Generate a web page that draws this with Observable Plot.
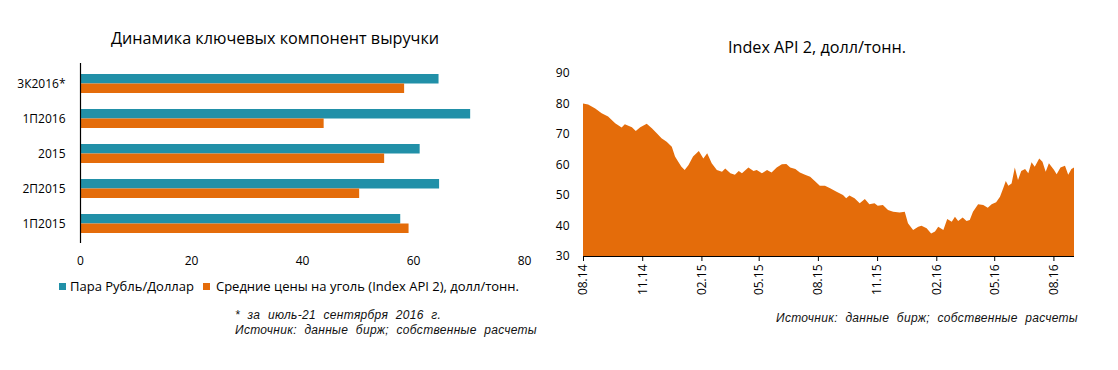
<!DOCTYPE html>
<html>
<head>
<meta charset="utf-8">
<script src="https://cdn.jsdelivr.net/npm/d3@7"></script>
<script src="https://cdn.jsdelivr.net/npm/@observablehq/plot@0.6"></script>
<style>
  html, body { margin: 0; padding: 0; background: #fff; }
  body { width: 1118px; height: 370px; position: relative; overflow: hidden; font-family: "Open Sans", sans-serif; color: #000; }
  .abs { position: absolute; white-space: nowrap; }
  .title { font-size: 16.2px; transform: translateY(-50%); }
  .legend { font-size: 13px; transform: translateY(-50%); display: flex; align-items: center; }
  .legend .sw { display: inline-block; width: 7px; height: 7px; }
  .note { font-family: "Liberation Sans", Arial, sans-serif; font-style: italic; font-size: 12px; letter-spacing: 0.3px; word-spacing: 4px; transform: translateY(-50%); color: #111; }
</style>
</head>
<body>
<div id="root"></div>
<script>
// ---------- Left chart data ----------
const categories = ["3К2016*", "1П2016", "2015", "2П2015", "1П2015"];
const seriesNames = ["Пара Рубль/Доллар", "Средние цены на уголь (Index API 2), долл/тонн."];
const rubUsd = [64.6, 70.3, 61.2, 64.7, 57.7];
const coalPrice = [58.4, 43.9, 54.8, 50.3, 59.2];
const barTicks = [0, 20, 40, 60, 80];
const seriesColors = ["#2190a8", "#e46c0a"];
const leftTitle = "Динамика ключевых компонент выручки";
const leftNotes = ["* за июль-21  сентярбря  2016 г.", "Источник: данные бирж; собственные расчеты"];

// ---------- Right chart data ----------
const api2Dates = [
  "2014-08-01","2014-08-09","2014-08-20","2014-08-30","2014-09-09","2014-09-20","2014-09-30","2014-10-05",
  "2014-10-16","2014-10-22","2014-10-29","2014-11-08","2014-11-16","2014-11-24","2014-12-01","2014-12-09",
  "2014-12-17","2014-12-22","2014-12-27","2015-01-01","2015-01-06","2015-01-12","2015-01-19","2015-01-28",
  "2015-02-04","2015-02-10","2015-02-17","2015-02-25","2015-03-05","2015-03-10","2015-03-18","2015-03-25",
  "2015-03-31","2015-04-05","2015-04-15","2015-04-23","2015-04-28","2015-05-06","2015-05-14","2015-05-21",
  "2015-05-29","2015-06-06","2015-06-13","2015-06-19","2015-06-27","2015-07-04","2015-07-12","2015-07-20",
  "2015-07-28","2015-08-04","2015-08-12","2015-08-20","2015-08-30","2015-09-09","2015-09-14","2015-09-19",
  "2015-09-27","2015-10-05","2015-10-13","2015-10-20","2015-10-28","2015-11-02","2015-11-10","2015-11-18",
  "2015-11-26","2015-12-06","2015-12-14","2015-12-19","2015-12-27","2016-01-04","2016-01-09","2016-01-17",
  "2016-01-24","2016-01-30","2016-02-04","2016-02-12","2016-02-18","2016-02-25","2016-03-01","2016-03-06",
  "2016-03-13","2016-03-19","2016-03-24","2016-03-29","2016-04-06","2016-04-14","2016-04-21","2016-04-27",
  "2016-05-04","2016-05-10","2016-05-15","2016-05-19","2016-05-23","2016-05-28","2016-06-02","2016-06-07",
  "2016-06-12","2016-06-18","2016-06-23","2016-06-28","2016-07-03","2016-07-10","2016-07-15","2016-07-20",
  "2016-07-25","2016-08-02","2016-08-06","2016-08-12","2016-08-19","2016-08-24","2016-08-29","2016-09-02"
];
const api2Values = [
  80.0,79.7,78.4,76.8,75.7,73.5,72.1,73.2,
  72.2,71.0,72.2,73.4,71.9,70.2,68.6,67.5,
  65.8,62.6,60.9,59.3,58.2,59.8,62.6,64.4,
  62.0,63.7,60.4,58.2,57.6,58.7,57.1,56.6,
  57.9,57.1,59.0,57.9,58.2,57.1,58.2,57.4,
  59.0,60.1,60.2,59.0,58.5,57.4,56.6,56.0,
  54.4,53.0,53.0,52.2,51.1,50.0,48.9,49.8,
  48.9,47.3,48.7,47.0,47.3,46.5,46.7,45.1,
  44.5,44.3,44.5,40.7,38.5,39.6,39.9,39.1,
  37.4,38.0,39.6,38.5,42.1,41.2,42.9,41.5,
  42.6,41.5,41.8,44.5,47.0,46.7,45.8,47.0,
  47.6,49.4,52.2,54.6,53.0,53.8,59.0,54.9,
  57.9,58.5,57.1,60.7,59.3,62.0,60.9,57.6,
  60.4,58.2,56.8,59.0,59.6,56.6,58.5,59.0
];
const api2Ticks = ["2014-08-01","2014-11-01","2015-02-01","2015-05-01","2015-08-01","2015-11-01","2016-02-01","2016-05-01","2016-08-01"];
const api2YTicks = [30, 40, 50, 60, 70, 80, 90];
const api2Color = "#e46c0a";
const rightTitle = "Index API 2, долл/тонн.";
const rightNote = "Источник: данные бирж; собственные расчеты";

// ---------- Build ----------
const root = document.getElementById("root");
function addDiv(cls, text, left, top, extra) {
  const d = document.createElement("div");
  d.className = "abs " + cls;
  d.textContent = text;
  d.style.left = left + "px";
  d.style.top = top + "px";
  if (extra) Object.assign(d.style, extra);
  root.appendChild(d);
  return d;
}
function place(el, left, top) {
  el.style.position = "absolute";
  el.style.left = left + "px";
  el.style.top = top + "px";
  root.appendChild(el);
}

// Left bar chart
const barRows = [];
categories.forEach((c, i) => {
  barRows.push({category: c, series: seriesNames[0], value: rubUsd[i]});
  barRows.push({category: c, series: seriesNames[1], value: coalPrice[i]});
});
const leftPlot = Plot.plot({
  width: 545,
  height: 275,
  marginLeft: 80,
  marginRight: 21,
  marginTop: 63,
  marginBottom: 32,
  style: {fontFamily: "Open Sans, sans-serif", fontSize: "12px", color: "#000", background: "transparent"},
  x: {domain: [0, 80], ticks: barTicks, tickSize: 0, tickPadding: 13, label: null},
  y: {domain: categories, paddingInner: 0.468, paddingOuter: 0.247, tickSize: 0, tickPadding: 15, label: null},
  color: {domain: seriesNames, range: seriesColors},
  marks: [
    Plot.barX(barRows.filter(d => d.series === seriesNames[0]), {x: "value", y: "category", fill: "series", insetBottom: 9.5}),
    Plot.barX(barRows.filter(d => d.series === seriesNames[1]), {x: "value", y: "category", fill: "series", insetTop: 9.5}),
    Plot.ruleX([0], {stroke: "#000", strokeWidth: 1.2})
  ]
});
place(leftPlot, 0, 0);
addDiv("title", leftTitle, 111, 38);

// Left legend
const leg = document.createElement("div");
leg.className = "abs legend";
leg.style.left = "59px";
leg.style.top = "286px";
seriesNames.forEach((name, i) => {
  const sw = document.createElement("span");
  sw.className = "sw";
  sw.style.background = seriesColors[i];
  sw.style.marginRight = i === 0 ? "4px" : "6px";
  const t = document.createElement("span");
  t.textContent = name;
  t.style.marginRight = i === 0 ? "9px" : "0";
  leg.appendChild(sw);
  leg.appendChild(t);
});
root.appendChild(leg);

addDiv("note", leftNotes[0], 235, 315);
addDiv("note", leftNotes[1], 235, 330);

// Right area chart
const api2 = api2Dates.map((d, i) => ({date: new Date(d), value: api2Values[i]}));
const rightPlot = Plot.plot({
  width: 545,
  height: 310,
  marginLeft: 43,
  marginRight: 11,
  marginTop: 73,
  marginBottom: 54,
  style: {fontFamily: "Open Sans, sans-serif", fontSize: "12px", color: "#000", background: "transparent"},
  x: {type: "utc", domain: [new Date(api2Dates[0]), new Date(api2Dates[api2Dates.length - 1])],
      ticks: api2Ticks.map(d => new Date(d)), tickFormat: d3.utcFormat("%m.%y"),
      tickSize: 5, tickPadding: 3, tickRotate: -90, label: null},
  y: {domain: [30, 90], ticks: api2YTicks, tickSize: 0, tickPadding: 14, label: null},
  marks: [
    Plot.areaY(api2, {x: "date", y1: 30, y2: "value", fill: api2Color}),
    Plot.ruleY([30], {stroke: "#000", strokeWidth: 1.2})
  ]
});
place(rightPlot, 540, 0);
addDiv("title", rightTitle, 728, 47);
addDiv("note", rightNote, 776, 318);
</script>
</body>
</html>
